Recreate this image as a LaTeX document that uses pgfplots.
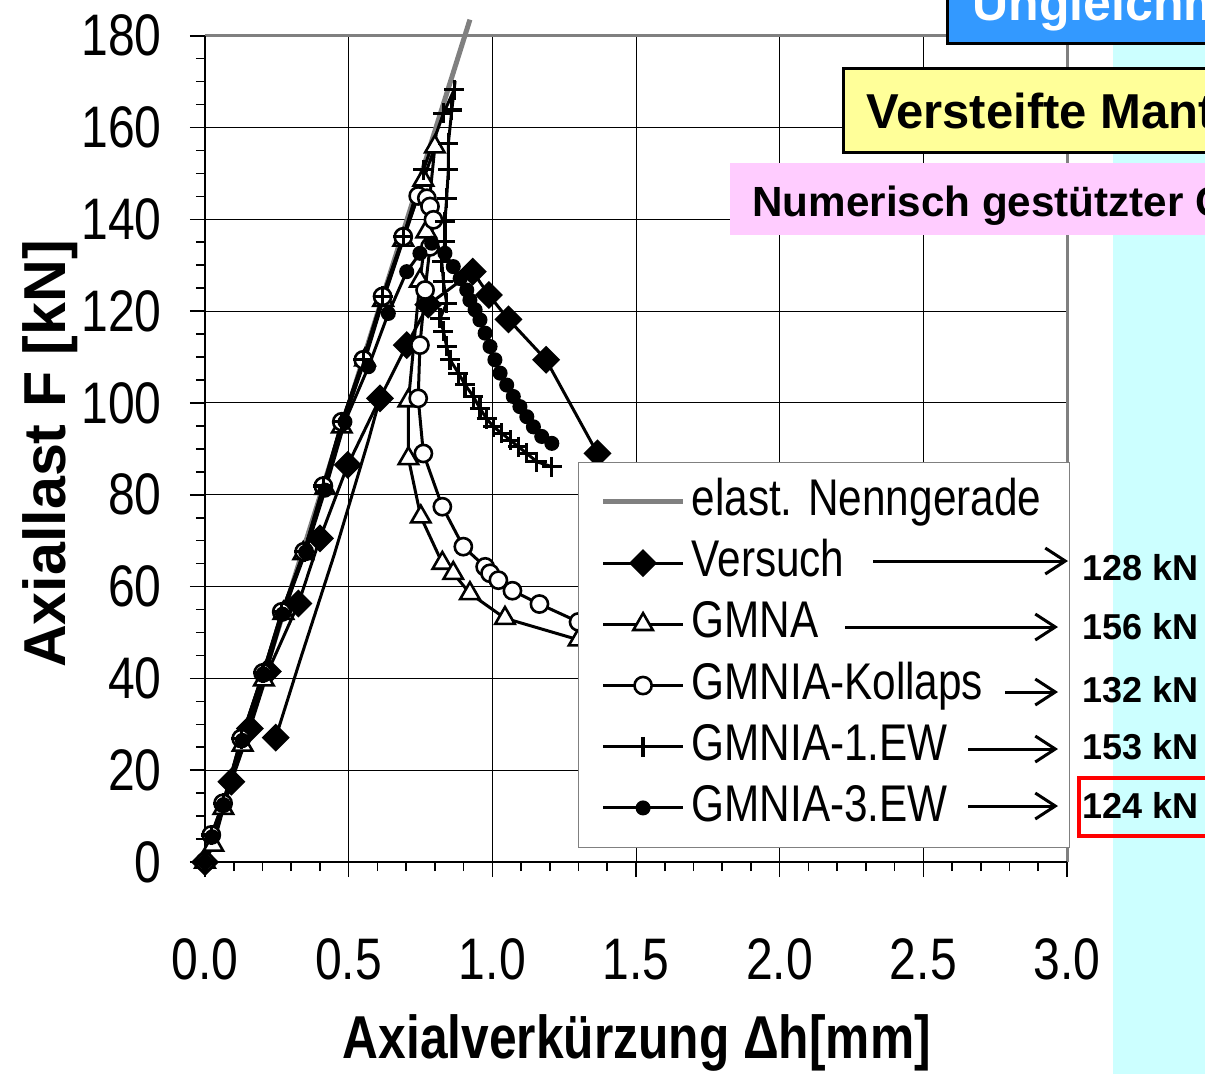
\documentclass[border=0pt]{standalone}
\usepackage{fontspec}
\setmainfont{Liberation Sans}
\newfontfamily\narrowfont{Liberation Sans}[FakeStretch=0.82]
\usepackage{pgfplots}
\pgfplotsset{compat=1.18}
\usetikzlibrary{arrows.meta}
\definecolor{elastgray}{RGB}{128,128,128}
\definecolor{cyanband}{RGB}{204,255,255}
\definecolor{yellowbox}{RGB}{255,255,153}
\definecolor{pinkbox}{RGB}{255,204,255}
\definecolor{bluebox}{RGB}{51,153,255}
\begin{document}
\begin{tikzpicture}
\useasboundingbox (0,0) rectangle (602.5pt,-536.5pt);
\clip (0,0) rectangle (602.5pt,-536.5pt);
\begin{scope}[x=0.5pt,y=-0.5pt]
\fill[cyanband] (1113,43) rectangle (1215,1080);
\end{scope}
\begin{axis}[
  at={(102.5pt,-431pt)}, anchor=south west,
  width=431pt, height=413.15pt, scale only axis,
  xmin=0, xmax=3, ymin=0, ymax=180,
  xtick={0,0.5,1,1.5,2,2.5,3}, ytick={0,20,...,180},
  minor x tick num=4, minor y tick num=3,
  tick pos=left, tick align=outside,
  major tick length=7.5pt, minor tick length=4.5pt,
  every tick/.style={black, line width=0.8pt},
  grid=major, major grid style={black, line width=0.5pt},
  axis line style={draw=none},
  clip=false,
  /pgf/number format/assume math mode=true,
  x tick label style={/pgf/number format/.cd, fixed, fixed zerofill, precision=1, /tikz/.cd, anchor=base, yshift=-51pt},
  y tick label style={anchor=east, inner sep=0pt, xshift=-14pt},
  tick label style={font=\narrowfont\fontsize{29.3}{32}\selectfont},
  xlabel={Axialverkürzung Δh[mm]},
  xlabel style={at={(axis description cs:0.501,-0.2372)}, anchor=base, inner sep=0pt, font=\narrowfont\bfseries\fontsize{30.3}{34}\selectfont},
  ylabel={Axiallast F [kN]},
  ylabel style={at={(axis description cs:-0.1613,0.4938)}, rotate=0, anchor=base, inner sep=0pt, font=\bfseries\fontsize{29.6}{34}\selectfont},
  legend cell align=left,
  legend image code/.code={\draw[mark repeat=2,mark phase=2,#1] plot coordinates {(0pt,0pt) (20pt,0pt) (40pt,0pt)};},
  legend style={at={(0.4327,0.0169)}, anchor=south west, draw=elastgray, line width=0.6pt, fill=white,
    font=\narrowfont\fontsize{25.8}{30}\selectfont, inner xsep=11pt, inner ysep=7.5pt, row sep=6.1pt,
    nodes={inner xsep=3pt, inner ysep=0pt, text height=19pt, text depth=5.5pt}},
]
% elastic line
\addplot[elastgray, line width=2.5pt] coordinates {(0,0) (0.922,183.5)};
\addlegendentry{elast. Nenngerade}
% Versuch
\addplot[black, line width=1.5pt, mark=square*, mark size=4.2pt, mark options={rotate=45, solid}] coordinates {
(0,0) (0.092,17.5) (0.156,29.1) (0.219,41.5) (0.325,56.3) (0.40,70.5) (0.497,86.5) (0.609,101.0)
(0.702,112.6) (0.777,121.4) (0.932,128.6) (0.988,123.5) (1.056,118.2) (1.187,109.4) (1.366,89.0)};
\addlegendentry{Versuch}
% GMNA
\addplot[black, line width=1.5pt, mark=triangle*, mark size=5.6pt, mark options={fill=white, line width=1.3pt}] coordinates {
(0,0) (0.029,3.7) (0.064,11.7) (0.131,25.5) (0.205,39.7) (0.273,54.2) (0.342,67.2) (0.418,81.4)
(0.476,94.8) (0.557,109.4) (0.62,122.4) (0.69,135.5) (0.76,148.6) (0.80,155.8) (0.77,137.3)
(0.748,126.6) (0.708,100.5) (0.708,87.9) (0.751,75.2) (0.826,65.1) (0.864,62.9) (0.922,58.5)
(1.044,53.1) (1.30,48.4) (1.55,45.0)};
\addlegendentry{GMNA}
% GMNIA-Kollaps
\addplot[black, line width=1.5pt, mark=*, mark size=4.3pt, mark options={fill=white, line width=1.3pt}] coordinates {
(0,0) (0.022,5.9) (0.063,12.8) (0.126,26.9) (0.202,41.2) (0.267,54.5) (0.345,67.6) (0.412,81.9)
(0.476,95.9) (0.551,109.4) (0.618,123.2) (0.69,136.2) (0.742,145.1) (0.772,144.6) (0.783,142.8)
(0.795,139.9) (0.783,134.0) (0.766,124.6) (0.748,112.6) (0.742,101.0) (0.76,89.0) (0.826,77.4)
(0.899,68.7) (0.975,64.3) (0.992,62.9) (1.021,61.4) (1.07,59.1) (1.164,56.2) (1.30,52.3) (1.55,48.5)};
\addlegendentry{GMNIA-Kollaps}
% GMNIA-1.EW
\addplot[black, line width=1.5pt, mark=+, mark size=5pt, mark options={line width=1.6pt}] coordinates {
(0,0) (0.022,5.9) (0.063,12.8) (0.126,26.9) (0.202,41.2) (0.267,54.5) (0.345,67.6) (0.412,81.9)
(0.476,95.9) (0.551,109.4) (0.618,123.2) (0.69,136.2) (0.76,150.8) (0.83,163.1) (0.867,168.2)
(0.859,163.8) (0.847,156.6) (0.847,150.8) (0.841,144.6) (0.835,139.5) (0.835,135.1) (0.824,130.8)
(0.83,126.4) (0.841,121.7) (0.818,118.4) (0.83,115.6) (0.841,112.3) (0.853,109.4) (0.882,106.5)
(0.905,104.0) (0.934,101.4) (0.957,98.8) (0.98,96.6) (1.004,94.8) (1.033,93.4) (1.062,91.9)
(1.09,90.5) (1.12,89.0) (1.155,87.2) (1.207,86.1)};
\addlegendentry{GMNIA-1.EW}
% GMNIA-3.EW
\addplot[black, line width=1.5pt, mark=*, mark size=3pt] coordinates {
(0,0) (0.025,5.5) (0.064,12.5) (0.13,26.5) (0.203,41.0) (0.27,54.0) (0.35,67.5) (0.418,81.0)
(0.487,95.9) (0.569,107.9) (0.638,119.5) (0.702,128.6) (0.748,132.6) (0.789,134.8) (0.835,132.6)
(0.864,129.7) (0.888,127.1) (0.911,124.6) (0.922,122.4) (0.94,120.3) (0.957,118.1) (0.975,115.2)
(0.992,112.3) (1.009,109.4) (1.027,106.5) (1.05,103.9) (1.073,101.4) (1.096,99.2) (1.12,97.0)
(1.143,94.8) (1.172,92.7) (1.207,91.2)};
\addlegendentry{GMNIA-3.EW}
% second Versuch branch
\addplot[black, line width=1.5pt, forget plot, mark=square*, mark size=4.2pt, mark options={rotate=45}, mark indices={1}] coordinates {
(0.246,27.1) (0.331,44.0) (0.45,67.0) (0.569,91.9) (0.609,101.0)};
% frame
\draw[elastgray, line width=1.5pt] (rel axis cs:0,1) -- (rel axis cs:1,1) -- (rel axis cs:1,0);
\draw[black, line width=1pt] (rel axis cs:0,1) -- (rel axis cs:0,0) -- (rel axis cs:1,0);
\end{axis}
\begin{scope}[x=0.5pt,y=-0.5pt]
% arrows
\draw[line width=1.5pt, -{Straight Barb[length=10pt,width=13pt]}] (873,561) -- (1068,561);
\draw[line width=1.5pt, -{Straight Barb[length=10pt,width=13pt]}] (845,627) -- (1058,627);
\draw[line width=1.5pt, -{Straight Barb[length=10pt,width=13pt]}] (1005,692) -- (1058,692);
\draw[line width=1.5pt, -{Straight Barb[length=10pt,width=13pt]}] (968,749) -- (1058,749);
\draw[line width=1.5pt, -{Straight Barb[length=10pt,width=13pt]}] (968,806) -- (1058,806);
% values
\begin{scope}[every node/.style={anchor=base west, inner sep=0pt, font=\bfseries\fontsize{18}{21}\selectfont}]
\node at (1082,580) {128 kN};
\node at (1082,639) {156 kN};
\node at (1082,702) {132 kN};
\node at (1082,759) {153 kN};
\node at (1082,818) {124 kN};
\end{scope}
\draw[red, line width=2pt] (1079,778) rectangle (1220,836);
% boxes
\draw[line width=1.5pt, fill=bluebox] (947,-40) rectangle (1220,43);
\node[anchor=base west, inner sep=0pt, text=white, font=\bfseries\fontsize{25}{28}\selectfont] at (972,20) {Ungleichmäßige};
\draw[line width=1.5pt, fill=yellowbox] (843,68) rectangle (1220,152);
\node[anchor=base west, inner sep=0pt, font=\bfseries\fontsize{24.5}{27}\selectfont] at (866,128) {Versteifte Mantelfläche};
\fill[pinkbox] (730,163) rectangle (1220,235);
\node[anchor=base west, inner sep=0pt, font=\bfseries\fontsize{21.1}{24}\selectfont] at (752,216) {Numerisch gestützter Grenzzustand};
\end{scope}
\end{tikzpicture}
\end{document}
